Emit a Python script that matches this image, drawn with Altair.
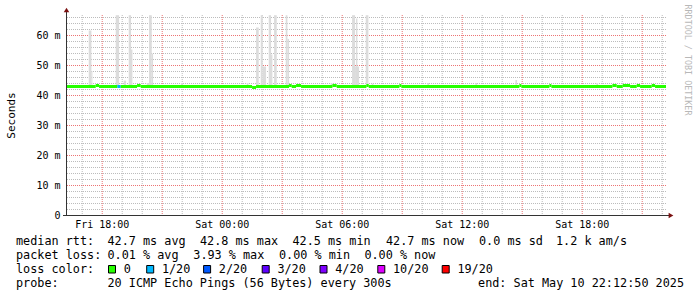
import altair as alt
import pandas as pd

# ---------------- data ----------------
START = "2025-05-09T16:12:50Z"
END = "2025-05-10T22:12:50Z"

MEDIAN_BASE = 42.7  # ms

# median exceptions: start, end, median (ms), loss class
med_start = ["2025-05-09T17:42", "2025-05-09T18:47", "2025-05-09T19:46", "2025-05-10T01:31",
             "2025-05-10T03:22", "2025-05-10T03:43", "2025-05-10T05:32", "2025-05-10T07:14",
             "2025-05-10T08:53", "2025-05-10T14:53", "2025-05-10T16:23", "2025-05-10T19:32",
             "2025-05-10T20:03", "2025-05-10T20:45", "2025-05-10T21:30"]
med_end = ["2025-05-09T17:52", "2025-05-09T18:57", "2025-05-09T19:57", "2025-05-10T01:43",
           "2025-05-10T03:30", "2025-05-10T03:58", "2025-05-10T05:45", "2025-05-10T07:21",
           "2025-05-10T08:59", "2025-05-10T14:59", "2025-05-10T16:29", "2025-05-10T19:45",
           "2025-05-10T20:25", "2025-05-10T20:55", "2025-05-10T21:40"]
med_value = [43.03, 42.7, 43.03, 42.37, 43.03, 43.03, 43.03, 43.03, 43.03, 43.03, 43.03, 43.03,
             43.03, 43.03, 43.03]
med_loss = ["0", "1/20", "0", "0", "0", "0", "0", "0", "0", "0", "0", "0", "0", "0", "0"]

# smoke (ping spread above the median): start, end, top (ms)
smoke_start = ["2025-05-09T17:21", "2025-05-09T17:29", "2025-05-09T18:42", "2025-05-09T19:06",
               "2025-05-09T19:21", "2025-05-09T19:28", "2025-05-09T20:15", "2025-05-09T20:22",
               "2025-05-09T20:30", "2025-05-09T21:58", "2025-05-10T01:15", "2025-05-10T01:43",
               "2025-05-10T01:57", "2025-05-10T02:03", "2025-05-10T02:21", "2025-05-10T02:28",
               "2025-05-10T02:37", "2025-05-10T03:12", "2025-05-10T03:17", "2025-05-10T05:27",
               "2025-05-10T06:31", "2025-05-10T06:40", "2025-05-10T06:43", "2025-05-10T07:12",
               "2025-05-10T07:30", "2025-05-10T10:17", "2025-05-10T12:41", "2025-05-10T14:41",
               "2025-05-10T18:44"]
smoke_end = ["2025-05-09T17:29", "2025-05-09T17:32", "2025-05-09T18:52", "2025-05-09T19:13",
             "2025-05-09T19:28", "2025-05-09T19:32", "2025-05-09T20:22", "2025-05-09T20:30",
             "2025-05-09T20:34", "2025-05-09T22:04", "2025-05-10T01:20", "2025-05-10T01:51",
             "2025-05-10T02:03", "2025-05-10T02:13", "2025-05-10T02:28", "2025-05-10T02:32",
             "2025-05-10T02:45", "2025-05-10T03:17", "2025-05-10T03:22", "2025-05-10T05:32",
             "2025-05-10T06:40", "2025-05-10T06:52", "2025-05-10T06:47", "2025-05-10T07:20",
             "2025-05-10T07:35", "2025-05-10T10:22", "2025-05-10T12:46", "2025-05-10T14:46",
             "2025-05-10T18:49"]
smoke_top = [61.5, 48.0, 66.6, 44.8, 66.6, 55.2, 44.0, 66.6, 53.8, 44.0, 44.0, 62.5,
             66.6, 49.5, 66.6, 53.5, 66.6, 66.6, 58.7, 44.0, 66.6, 49.5, 65.5, 66.6,
             43.8, 44.0, 44.0, 45.0, 44.0]

LOSS_LABELS = ["0", "1/20", "2/20", "3/20", "4/20", "10/20", "19/20"]
LOSS_COLORS = ["#26ff00", "#00b8ff", "#0059ff", "#5e00ff", "#7e00ff", "#dd00ff", "#ff0000"]

legend_line1 = ["median rtt:", "42.7 ms avg", "42.8 ms max", "42.5 ms min", "42.7 ms now",
                "0.0 ms sd", "1.2 k am/s"]
legend_line2 = ["packet loss:", "0.01 % avg", "3.93 % max", "0.00 % min", "0.00 % now"]
legend_line3_head = "loss color:"
legend_probe = "probe:"
legend_probe_text = "20 ICMP Echo Pings (56 Bytes) every 300s"
legend_end = "end: Sat May 10 22:12:50 2025"
watermark = "RRDTOOL / TOBI OETIKER"
y_title = "Seconds"

# ---------------- tables ----------------
def ts(s):
    t = pd.Timestamp(s)
    if t.tzinfo is None:
        t = t.tz_localize("UTC")
    return t

exc = sorted(zip(med_start, med_end, med_value, med_loss), key=lambda r: ts(r[0]))
segs = []
cur = ts(START)
for s, e, v, l in exc:
    if ts(s) > cur:
        segs.append((cur, ts(s), MEDIAN_BASE, "0"))
    segs.append((ts(s), ts(e), v, l))
    cur = ts(e)
if cur < ts(END):
    segs.append((cur, ts(END), MEDIAN_BASE, "0"))
med_df = pd.DataFrame({
    "start": [a.strftime("%Y-%m-%dT%H:%M:%SZ") for a, b, v, l in segs],
    "end": [b.strftime("%Y-%m-%dT%H:%M:%SZ") for a, b, v, l in segs],
    "value": [v for a, b, v, l in segs],
    "loss": [l for a, b, v, l in segs],
})

smoke_df = pd.DataFrame({
    "start": [ts(s).strftime("%Y-%m-%dT%H:%M:%SZ") for s in smoke_start],
    "end": [ts(s).strftime("%Y-%m-%dT%H:%M:%SZ") for s in smoke_end],
    "top": smoke_top,
    "base": [MEDIAN_BASE] * len(smoke_top),
})

def ms(s):
    return int(ts(s).value // 10**6)

x_domain = [ms(START), ms(END)]
hour_ticks = [int(t.value // 10**6) for t in pd.date_range("2025-05-09T17:00Z", "2025-05-10T22:00Z", freq="h")]
x_major = [int(t.value // 10**6) for t in pd.date_range("2025-05-09T18:00Z", "2025-05-10T21:00Z", freq="3h")]
x_minor = [t for t in hour_ticks if t not in x_major]
y_ticks = list(range(0, 67, 2))
y_major = list(range(10, 61, 10))
y_minor = [v for v in y_ticks if v % 10 != 0]
Y_MAX = 200 / 3.0

FONT = "DejaVu Sans Mono"
MINOR = "#bcbcbc"
MAJOR = "#ec7474"

x_axis = alt.Axis(values=hour_ticks, title=None, domain=False, ticks=False, grid=False,
                  labelExpr="utchours(datum.value) % 6 == 0 ? utcFormat(datum.value, '%a %H:%M') : ''",
                  labelFont=FONT, labelFontSize=10, labelColor="#000", labelPadding=4,
                  labelOverlap=False, labelFlush=False, labelBound=False)
y_axis = alt.Axis(values=y_ticks, title=y_title, domain=False, ticks=False, grid=False,
                  labelExpr="datum.value % 10 == 0 ? (datum.value == 0 ? '0' : datum.value + ' m') : ''",
                  labelFont=FONT, labelFontSize=10, labelColor="#000", labelPadding=6,
                  labelOverlap=False, labelFlush=False, labelBound=False,
                  titleFont=FONT, titleFontSize=11, titleFontWeight="normal", titleColor="#000",
                  titleX=-55, titleY=100, titleBaseline="middle", titleAlign="center")

X = lambda f: alt.X(f, type="temporal", scale=alt.Scale(type="utc", domain=x_domain), axis=x_axis)
Y = lambda f: alt.Y(f, type="quantitative", scale=alt.Scale(domain=[0, Y_MAX], nice=False, zero=True), axis=y_axis)

# grid lines: minor grey dotted, major red dotted
def vgrid(vals, col):
    return alt.Chart(pd.DataFrame({"t": vals})).mark_rule(
        color=col, strokeWidth=1, strokeDash=[1, 1], xOffset=0.5).encode(x=X("t"))

def hgrid(vals, col):
    return alt.Chart(pd.DataFrame({"v": vals})).mark_rule(
        color=col, strokeWidth=1, strokeDash=[1, 1], yOffset=0.5).encode(y=Y("v"))

grids = [vgrid(x_minor, MINOR), hgrid(y_minor, MINOR), vgrid(x_major, MAJOR), hgrid(y_major, MAJOR)]

smoke = alt.Chart(smoke_df).mark_rect(color="#dcdcdc", clip=True).encode(
    x=X("start"), x2="end:T", y=Y("top"), y2="base:Q")

median = alt.Chart(med_df).mark_rule(strokeWidth=3, strokeCap="butt", yOffset=-0.4).encode(
    x=X("start"), x2="end:T", y=Y("value"),
    color=alt.Color("loss:N", scale=alt.Scale(domain=LOSS_LABELS, range=LOSS_COLORS), legend=None))

one = pd.DataFrame({"a": [0]})
AX = "#333333"
x_line = alt.Chart(one).mark_rule(color=AX, strokeWidth=1).encode(
    x=alt.value(-3), x2=alt.value(606), y=alt.value(200.5))
y_line = alt.Chart(one).mark_rule(color=AX, strokeWidth=1).encode(
    x=alt.value(0.5), y=alt.value(200.5), y2=alt.value(-6))
up_arrow = alt.Chart(one).mark_point(shape="triangle-up", filled=True, size=30, color="#7a1010", opacity=1).encode(
    x=alt.value(0.5), y=alt.value(-5))
right_arrow = alt.Chart(one).mark_point(shape="triangle-right", filled=True, size=30, color="#7a1010", opacity=1).encode(
    x=alt.value(605), y=alt.value(200.5))

# legend / text  (plot origin is at 66,15)
OX, OY = 66, 15
LFS = 11.8
NB = "\u00a0"
def txt(s, x, y, align="left"):
    return alt.Chart(one).mark_text(text=s.replace(" ", NB), align=align, baseline="alphabetic", font=FONT,
                                    fontSize=LFS, color="#000").encode(
        x=alt.value(x - OX), y=alt.value(y - OY))

texts = []
line1_x = [16, 107.5, 200, 292.5, 386, 479, 556]
for s, x in zip(legend_line1, line1_x):
    texts.append(txt(s, x, 245))
line2_x = [16, 107.5, 193.3, 279, 364.4]
for s, x in zip(legend_line2, line2_x):
    texts.append(txt(s, x, 259))
texts.append(txt(legend_line3_head, 16, 273))
box_x = [108.5, 146.7, 203.6, 262.2, 320, 377.8, 442.2]
for lab, col, bx in zip(LOSS_LABELS, LOSS_COLORS, box_x):
    texts.append(alt.Chart(one).mark_rect(color=col, stroke="#000", strokeWidth=1).encode(
        x=alt.value(bx - OX), x2=alt.value(bx + 7 - OX),
        y=alt.value(265.5 - OY), y2=alt.value(273 - OY)))
    texts.append(txt(lab, bx + 15.2, 273))
texts.append(txt(legend_probe, 16, 287))
texts.append(txt(legend_probe_text, 107.5, 287))
texts.append(txt(legend_end, 684, 287, align="right"))
wm = alt.Chart(one).mark_text(text=watermark.replace(" ", NB), align="center", baseline="middle", font=FONT,
                              fontSize=8.4, color="#b8b8b8", angle=90).encode(
    x=alt.value(687.5 - OX), y=alt.value(60 - OY))

chart = alt.layer(*grids, smoke, median, x_line, y_line, up_arrow, right_arrow,
                  *texts, wm).properties(
    width=600, height=200,
    autosize=alt.AutoSizeParams(type="none"),
    padding={"left": 66, "top": 15, "right": 31, "bottom": 82},
    background="white",
).configure_view(stroke=None)

chart.save("out.html", embed_options={"renderer": "svg", "actions": False})
